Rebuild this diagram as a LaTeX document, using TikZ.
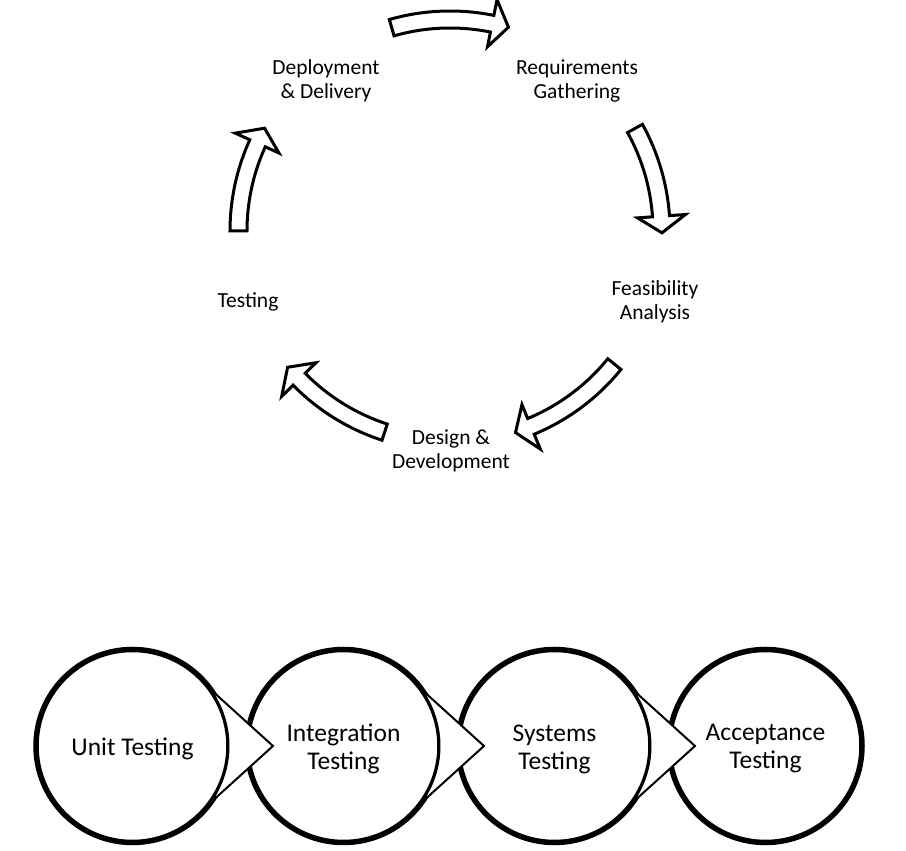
\documentclass[tikz,border=0pt]{standalone}
\usepackage{fontspec}
\setmainfont{Carlito}
\usetikzlibrary{calc}
\begin{document}
\begin{tikzpicture}
[x=1pt, y=1pt,
 step label/.style ={align=center, font=\fontsize{21.5}{24}\selectfont},
 test circle/.style ={draw, shape=circle, line width=5.5pt, minimum size=193pt, inner sep=0pt},
 circle label/.style ={align=center, font=\fontsize{25.5}{28}\selectfont},
 cycle arrow/.style ={draw, line width=3pt, fill=white, line join=miter},
 chevron/.style ={draw, line width=2pt, fill=white}]
\useasboundingbox (0,0) rectangle (906,851);
% cycle labels
\node[step label] (req) at (577,770) {Requirements\\Gathering};
\node[step label] (feas) at (655,549) {Feasibility\\Analysis};
\node[step label] (design) at (451,400) {Design \&\\Development};
\node[step label] (test) at (248,549) {Testing};
\node[step label] (deploy) at (326,770) {Deployment\\\& Delivery};
% block arrows round the cycle
\begin{scope}[shift={(450,620)}]
\foreach \ta/\tb in {106/74, 29/-0.5, -39/-72, -108/-140, 180/151}
{ \pgfmathsetmacro\tc{\tb+4.5}
  \draw[cycle arrow] (\ta:220) arc[start angle=\ta, end angle=\tc, radius=220] -- (\tc:236)
     -- (\tb:212) -- (\tc:188) -- (\tc:203) arc[start angle=\tc, end angle=\ta, radius=203] -- cycle; }
\end{scope}
% testing levels
\node[test circle] (unit) at (132.5,105) {};
\node[test circle] (integ) at (343.5,105) {};
\node[test circle] (sys) at (554.5,105) {};
\node[test circle] (accept) at (765.5,105) {};
\foreach \a in {unit, integ, sys}
  \draw[chevron] ($(\a.center)+(37:96)$) arc[start angle=37, end angle=-37, radius=96]
     -- ($(\a.center)+(140.5,0)$) -- cycle;
\node[circle label] at ([yshift=-3pt]unit.center) {Unit Testing};
\node[circle label] at ([yshift=-3pt]integ.center) {Integration\\Testing};
\node[circle label] at ([yshift=-3pt]sys.center) {Systems\\Testing};
\node[circle label] at ([yshift=-3pt]accept.center) {Acceptance\\Testing};
\end{tikzpicture}
\end{document}
